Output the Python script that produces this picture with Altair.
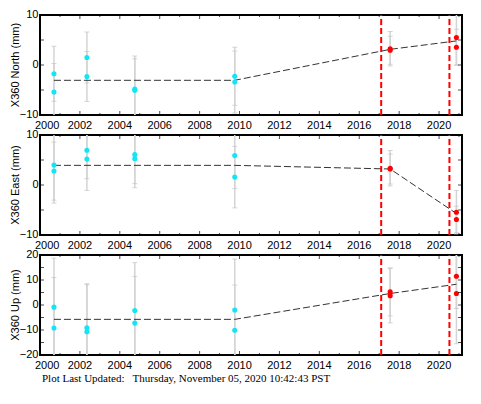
import altair as alt
import pandas as pd

# ---------------- data ----------------
pre_dates = [2000.70, 2000.70, 2002.35, 2002.35, 2004.75, 2004.75, 2009.76, 2009.76]
post_dates = [2017.55, 2017.55, 2020.87, 2020.87]

north_pre = [-1.75, -5.4, 1.5, -2.3, -4.8, -5.07, -2.25, -3.4]
north_pre_err = [5.5, 5.7, 5.1, 5.0, 6.6, 6.3, 5.8, 6.2]
north_post = [3.25, 2.95, 5.5, 3.56]
north_post_err = [3.45, 2.8, 5.5, 3.6]

east_pre = [3.98, 2.78, 6.96, 5.18, 6.07, 5.25, 5.88, 1.58]
east_pre_err = [7.6, 5.8, 5.7, 6.26, 5.8, 5.8, 6.6, 6.15]
east_post = [3.36, 3.2, -5.44, -6.9]
east_post_err = [3.55, 3.0, 4.36, 2.65]

up_pre = [-0.86, -9.2, -9.1, -10.7, -2.24, -7.24, -1.99, -10.1]
up_pre_err = [19.6, 20.2, 17.6, 18.8, 19.2, 18.7, 20.4, 18.1]
up_post = [5.25, 3.75, 11.5, 4.6]
up_post_err = [9.6, 10.9, 12.9, 20.1]

model_dates = [2000.70, 2009.76, 2017.55, 2020.87]
north_model = [-3.06, -3.06, 3.13, 4.82]
east_model = [3.93, 3.93, 3.2, -5.7]
up_model = [-5.74, -5.74, 4.6, 8.3]

event_dates = [2017.10, 2020.52]

year_major = list(range(2000, 2021, 2))
year_minor = list(range(2001, 2022, 2))

x_domain = [2000, 2021.15]
footer = "Plot Last Updated:\u00a0\u00a0 Thursday, November 05, 2020 10:42:43 PST"

FONT = "Liberation Sans"
W, H = 422, 100
XS = alt.Scale(domain=x_domain, nice=False, zero=False)


def panel(title, pre, pre_err, post, post_err, model, ydom, ylabels, yticks):
    ys = alt.Scale(domain=ydom, nice=False, zero=False)
    pts = pd.DataFrame({
        "t": pre_dates + post_dates,
        "v": pre + post,
        "e": pre_err + post_err,
        "g": ["pre"] * len(pre) + ["post"] * len(post),
    })
    pts["lo"] = pts["v"] - pts["e"]
    pts["hi"] = pts["v"] + pts["e"]
    base = alt.Chart(pts)
    xe = alt.X("t:Q", scale=XS, axis=None)

    def yq(field):
        return alt.Y(field, scale=ys, axis=None)

    bars = base.mark_rule(color="#d4d4d4", strokeWidth=1.5, clip=True).encode(
        x=xe, y=yq("lo:Q"), y2="hi:Q")
    caps = base.transform_fold(["lo", "hi"], as_=["k", "cap"]).mark_tick(
        orient="horizontal", size=5, thickness=1, color="#c4c4c4", clip=True
    ).encode(x=xe, y=yq("cap:Q"))
    mdl = alt.Chart(pd.DataFrame({"t": model_dates, "m": model})).mark_line(
        color="#333333", strokeWidth=1, strokeDash=[7, 3], clip=True
    ).encode(x=xe, y=yq("m:Q"))
    ev = alt.Chart(pd.DataFrame({"t": event_dates})).mark_rule(
        color="#ff0000", strokeWidth=2, strokeDash=[6, 3]
    ).encode(x=xe, y=alt.Y(datum=ydom[0], scale=ys, axis=None),
             y2=alt.Y2(datum=ydom[1]))
    dots = base.mark_circle(size=26, opacity=1, clip=True).encode(
        x=xe, y=yq("v:Q"),
        color=alt.Color("g:N", scale=alt.Scale(domain=["pre", "post"],
                                               range=["#12e6f6", "#ff0000"]),
                        legend=None))

    # inside tick marks on all four edges (half of each tick is clipped away)
    def xticks(vals, edge, size):
        return alt.Chart(pd.DataFrame({"t": vals})).mark_tick(
            orient="vertical", size=size, thickness=1, color="black", clip=True
        ).encode(x=xe, y=alt.Y(datum=edge, scale=ys, axis=None))

    def yticks_layer(edge):
        return alt.Chart(pd.DataFrame({"v": yticks})).mark_tick(
            orient="horizontal", size=8, thickness=1, color="black", clip=True
        ).encode(y=yq("v:Q"), x=alt.X(datum=edge, scale=XS, axis=None))

    ticks = [xticks(year_major, ydom[0], 8), xticks(year_minor, ydom[0], 4),
             xticks(year_major, ydom[1], 8), xticks(year_minor, ydom[1], 4),
             yticks_layer(x_domain[0]), yticks_layer(x_domain[1])]

    # tick labels and axis title as text marks
    xlab_df = pd.DataFrame({"t": year_major, "s": [str(y) for y in year_major]})
    xlab_first = alt.Chart(xlab_df.iloc[:1]).mark_text(
        align="left", baseline="top", dx=-5, dy=5, font=FONT, fontSize=11,
        color="black").encode(x=xe, y=alt.Y(datum=ydom[0], scale=ys, axis=None),
                              text="s:N")
    xlab_rest = alt.Chart(xlab_df.iloc[1:]).mark_text(
        align="center", baseline="top", dy=5, font=FONT, fontSize=11,
        color="black").encode(x=xe, y=alt.Y(datum=ydom[0], scale=ys, axis=None),
                              text="s:N")
    ylab_df = pd.DataFrame({"v": ylabels,
                            "s": [("\u2212" + str(-v)) if v < 0 else str(v)
                                  for v in ylabels]})
    ylab = alt.Chart(ylab_df).mark_text(
        align="right", baseline="middle", dx=-1.5, font=FONT, fontSize=11,
        color="black").encode(y=yq("v:Q"),
                              x=alt.X(datum=x_domain[0], scale=XS, axis=None),
                              text="s:N")
    ytitle = alt.Chart(pd.DataFrame({"s": [title]})).mark_text(
        angle=270, align="center", baseline="top", dy=-30, font=FONT,
        fontSize=11, color="black").encode(
        x=alt.X(datum=x_domain[0], scale=XS, axis=None),
        y=alt.Y(datum=(ydom[0] + ydom[1]) / 2, scale=ys, axis=None),
        text="s:N")

    return alt.layer(bars, caps, mdl, ev, dots, *ticks, xlab_first,
                     xlab_rest, ylab, ytitle).properties(width=W, height=H)


p1 = panel("X360 North (mm)", north_pre, north_pre_err, north_post,
           north_post_err, north_model, [-10, 10], [-10, 0, 10],
           [-10, -5, 0, 5, 10])
p2 = panel("X360 East (mm)", east_pre, east_pre_err, east_post,
           east_post_err, east_model, [-10, 10], [-10, 0, 10],
           [-10, -5, 0, 5, 10])
p3 = panel("X360 Up (mm)", up_pre, up_pre_err, up_post, up_post_err,
           up_model, [-20, 20], [-20, -10, 0, 10, 20],
           [-20, -15, -10, -5, 0, 5, 10, 15, 20])

chart = alt.vconcat(p1, p2, p3, spacing=20, bounds="flush").properties(
    padding={"left": 0, "top": 0, "right": 0, "bottom": 0},
    title=alt.TitleParams(footer, orient="bottom", anchor="start",
                          frame="bounds", dx=33, offset=1,
                          font="Liberation Serif", fontSize=11,
                          fontWeight="normal", color="black"),
).configure_view(stroke="black", strokeWidth=2)

chart.save("out.html", embed_options={"renderer": "svg", "actions": False})
